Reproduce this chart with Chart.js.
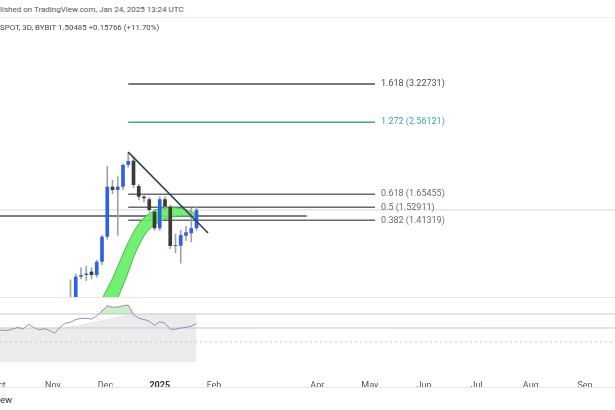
<!DOCTYPE html>
<html>
<head>
<meta charset="utf-8">
<script src="https://cdn.jsdelivr.net/npm/chart.js@4.4.1/dist/chart.umd.min.js"></script>
<style>
  html, body { margin: 0; padding: 0; background: #fff; }
  body { width: 615px; height: 410px; position: relative; overflow: hidden; font-family: Roboto, "Liberation Sans", sans-serif; }
  .txt { position: absolute; left: 0; white-space: nowrap; line-height: 10px; z-index: 2; }
  #pub { top: 5px; font-size: 8px; color: #555; }
  #legend { top: 23px; font-size: 7.9px; color: #444; }
  #logo { top: 395px; font-size: 9.5px; color: #333; }
  .sep { position: absolute; left: 0; width: 615px; height: 1px; background: #e6e7ea; }
  #mainChart { position: absolute; left: 0; top: 18px; }
  #rsiChart { position: absolute; left: 0; top: 297px; }
</style>
</head>
<body>
<div class="txt" id="pub">lished on TradingView.com, Jan 24, 2025 13:24 UTC</div>
<div class="sep" style="top:17px;background:#efefef"></div>
<div class="txt" id="legend">SPOT, 3D, BYBIT 1.50485 +0.15766 (+11.70%)</div>
<canvas id="mainChart" width="615" height="279"></canvas>
<div class="sep" style="top:297px"></div>
<canvas id="rsiChart" width="615" height="91"></canvas>
<div class="sep" style="top:387px"></div>
<div class="txt" id="logo">ew</div>

<script>
// time axis: days since 2024-10-01
const xMin = 0.714;
const xMax = 352.14;
const tickDays = [0, 31, 61, 92, 123, 182, 212, 243, 273, 304, 335];
const tickLabels = ['Oct', 'Nov', 'Dec', '2025', 'Feb', 'Apr', 'May', 'Jun', 'Jul', 'Aug', 'Sep'];

// 3D candles
const candleDays = [41, 44, 47, 50, 53, 56, 59, 62, 65, 68, 71, 74, 77, 80, 83, 86, 89, 92, 95, 98, 101, 104, 107, 110, 113];
const opens  = [0.72, 0.86, 1.004, 1.014, 1.035, 1.014, 1.099, 1.279, 1.732, 1.698, 1.732, 1.976, 2.028, 1.739, 1.630, 1.605, 1.4885, 1.346, 1.605, 1.534, 1.209, 1.211, 1.287, 1.306, 1.347];
const closes = [0.86, 1.004, 1.014, 1.0235, 1.014, 1.099, 1.279, 1.732, 1.698, 1.732, 1.976, 2.024, 1.750, 1.630, 1.615, 1.504, 1.346, 1.605, 1.534, 1.209, 1.215, 1.292, 1.314, 1.347, 1.50485];
const highs  = [0.985, 1.02, 1.06, 1.07, 1.06, 1.11, 1.29, 1.96, 1.80, 1.84, 1.99, 2.1356, 2.08, 1.76, 1.66, 1.62, 1.51, 1.63, 1.63, 1.55, 1.30, 1.33, 1.36, 1.52, 1.53];
const lows   = [0.70, 0.82, 0.99, 0.98, 0.99, 1.0, 1.08, 1.26, 1.66, 1.29, 1.70, 1.95, 1.72, 1.60, 1.58, 1.49, 1.33, 1.33, 1.50, 1.19, 1.16, 1.09, 1.25, 1.24, 1.33];

// green ribbon
const bandDays  = [59, 62, 65, 68, 71, 74, 77, 80, 83, 86, 89, 92, 95, 98, 101, 104, 107, 110, 113];
const bandUpper = [0.877, 0.933, 0.994, 1.069, 1.152, 1.235, 1.315, 1.384, 1.432, 1.473, 1.498, 1.519, 1.523, 1.529, 1.524, 1.518, 1.504, 1.489, 1.469];
const bandLower = [0.69, 0.758, 0.818, 0.882, 0.952, 1.031, 1.128, 1.211, 1.286, 1.338, 1.374, 1.400, 1.421, 1.439, 1.445, 1.450, 1.450, 1.450, 1.440];

// drawings
const trendDays = [74, 119.6];
const trendPrices = [2.1356, 1.3082];
const fibRatios = ['1.618', '1.272', '0.618', '0.5', '0.382'];
const fibPrices = [3.22731, 2.56121, 1.65455, 1.52911, 1.41319];
const fibColors = ['#4f4f4f', '#3aa99e', '#6a6a6a', '#6a6a6a', '#6a6a6a'];
const fibStart = 74;
const fibEnd = 215;
const hLineDays = [0.714, 176];
const hLinePrice = 1.45;
const lastPrice = 1.50485;

// RSI pane
const rsiDays = [-1, 2, 5, 8, 11, 14, 17, 20, 23, 26, 29, 32, 35, 38, 41, 44, 47, 50, 53, 56, 59, 62, 65, 68, 71, 74, 77, 80, 83, 86, 89, 92, 95, 98, 101, 104, 107, 110, 113];
const rsiValues = [58.6, 58.4, 58.2, 59.3, 60.4, 59.3, 62.7, 60.4, 58.7, 59.5, 58.2, 56.3, 60.5, 63.4, 64.1, 66.0, 66.9, 66.9, 66.4, 68.6, 72.1, 75.9, 74.8, 75.0, 75.9, 76.4, 69.6, 66.9, 66.1, 64.8, 61.9, 64.4, 63.4, 59.1, 59.1, 59.9, 60.5, 61.4, 63.2];
const rsiShadeDays = [-1, 37, 75, 113];
const rsiShadeTop = [60, 60, 70, 70];
const rsiShadeBottom = 35.7;
const rsiLevels = [70, 60, 50];

const upColor = '#2e62e3';
const downColor = '#3a3a3a';
const wickColor = '#a3a3a3';
const font = 'Roboto';

const isUp = candleDays.map((d, i) => closes[i] >= opens[i]);

function flat(days, value) {
    return days.map(d => ({ x: d, y: value }));
}

const fibDatasets = fibPrices.map((p, i) => ({
    type: 'line',
    data: flat([fibStart, fibEnd], p),
    borderColor: fibColors[i],
    borderWidth: 1.5,
    pointRadius: 0,
    order: 6
}));

const fibLabels = {
    id: 'fibLabels',
    afterDatasetsDraw(chart) {
        const ctx = chart.ctx;
        const x = chart.scales.x;
        const y = chart.scales.y;
        ctx.save();
        ctx.font = '9px ' + font;
        ctx.textBaseline = 'middle';
        fibRatios.forEach((r, i) => {
            ctx.fillStyle = fibColors[i];
            ctx.fillText(r + ' (' + fibPrices[i].toFixed(5) + ')', x.getPixelForValue(fibEnd) + 6, y.getPixelForValue(fibPrices[i]));
        });
        ctx.restore();
    }
};

new Chart(document.getElementById('mainChart'), {
    type: 'bar',
    data: {
        datasets: [
            {
                type: 'line',
                data: trendDays.map((d, i) => ({ x: d, y: trendPrices[i] })),
                borderColor: '#34365f',
                borderWidth: 1.5,
                pointRadius: 0,
                order: 0
            },
            {
                data: candleDays.map((d, i) => ({ x: d, y: [opens[i], closes[i]] })),
                backgroundColor: isUp.map(u => u ? upColor : downColor),
                grouped: false,
                barPercentage: 0.7,
                categoryPercentage: 1,
                minBarLength: 1,
                order: 1
            },
            {
                data: candleDays.map((d, i) => ({ x: d, y: [lows[i], highs[i]] })),
                backgroundColor: wickColor,
                grouped: false,
                barThickness: 1,
                order: 2
            },
            {
                type: 'line',
                data: bandDays.map((d, i) => ({ x: d, y: bandUpper[i] })),
                borderColor: '#48b848',
                borderWidth: 1,
                pointRadius: 0,
                tension: 0.3,
                order: 3
            },
            {
                type: 'line',
                data: bandDays.map((d, i) => ({ x: d, y: bandLower[i] })),
                borderColor: '#48b848',
                borderWidth: 1,
                backgroundColor: 'rgba(100,238,100,0.9)',
                fill: '-1',
                pointRadius: 0,
                tension: 0.3,
                order: 3
            },
            {
                type: 'line',
                data: flat(hLineDays, hLinePrice),
                borderColor: '#505050',
                borderWidth: 1.5,
                pointRadius: 0,
                order: 5
            },
            {
                type: 'line',
                data: flat([xMin, xMax], lastPrice),
                borderColor: '#d4d6db',
                borderWidth: 1,
                pointRadius: 0,
                order: 7
            }
        ].concat(fibDatasets)
    },
    options: {
        responsive: false,
        animation: false,
        plugins: { legend: { display: false }, tooltip: { enabled: false } },
        scales: {
            x: { type: 'linear', min: xMin, max: xMax, offset: false, display: false },
            y: { type: 'logarithmic', min: 0.8876, max: 4.8148, bounds: 'data', display: false }
        }
    },
    plugins: [fibLabels]
});

new Chart(document.getElementById('rsiChart'), {
    type: 'line',
    data: {
        datasets: [
            {
                data: rsiDays.map((d, i) => ({ x: d, y: rsiValues[i] })),
                borderColor: '#9690ad',
                borderWidth: 1,
                pointRadius: 0,
                fill: { target: { value: 70 }, above: 'rgba(110,205,110,0.35)', below: 'rgba(0,0,0,0)' },
                order: 0
            },
            {
                data: flat([xMin, xMax], rsiLevels[0]),
                borderColor: '#c9c9cc',
                borderWidth: 1,
                pointRadius: 0,
                order: 1
            },
            {
                data: flat([xMin, xMax], rsiLevels[1]),
                borderColor: '#c9c9cc',
                borderWidth: 1,
                pointRadius: 0,
                order: 1
            },
            {
                data: flat([xMin, xMax], rsiLevels[2]),
                borderColor: '#c9c9cc',
                borderWidth: 1,
                borderDash: [2, 3],
                pointRadius: 0,
                order: 1
            },
            {
                data: rsiShadeDays.map((d, i) => ({ x: d, y: rsiShadeTop[i] })),
                borderWidth: 0,
                backgroundColor: '#ebebed',
                fill: { value: rsiShadeBottom },
                pointRadius: 0,
                order: 2
            }
        ]
    },
    options: {
        responsive: false,
        animation: false,
        plugins: { legend: { display: false }, tooltip: { enabled: false } },
        scales: {
            x: {
                type: 'linear', min: xMin, max: xMax, offset: false,
                grid: { display: false },
                border: { display: false },
                afterBuildTicks: s => { s.ticks = tickDays.map(v => ({ value: v })); },
                afterFit: s => { s.height = 23; s.paddingLeft = 0; s.paddingRight = 0; },
                ticks: {
                    autoSkip: false,
                    maxRotation: 0,
                    padding: 7,
                    color: c => (c.index === 3 ? '#333' : '#555'),
                    callback: (v, i) => tickLabels[i],
                    font: c => ({ family: font, size: 9, weight: c.index === 3 ? 'bold' : 'normal' })
                }
            },
            y: { type: 'linear', min: 33.57, max: 82.14, display: false }
        }
    }
});
</script>
</body>
</html>
